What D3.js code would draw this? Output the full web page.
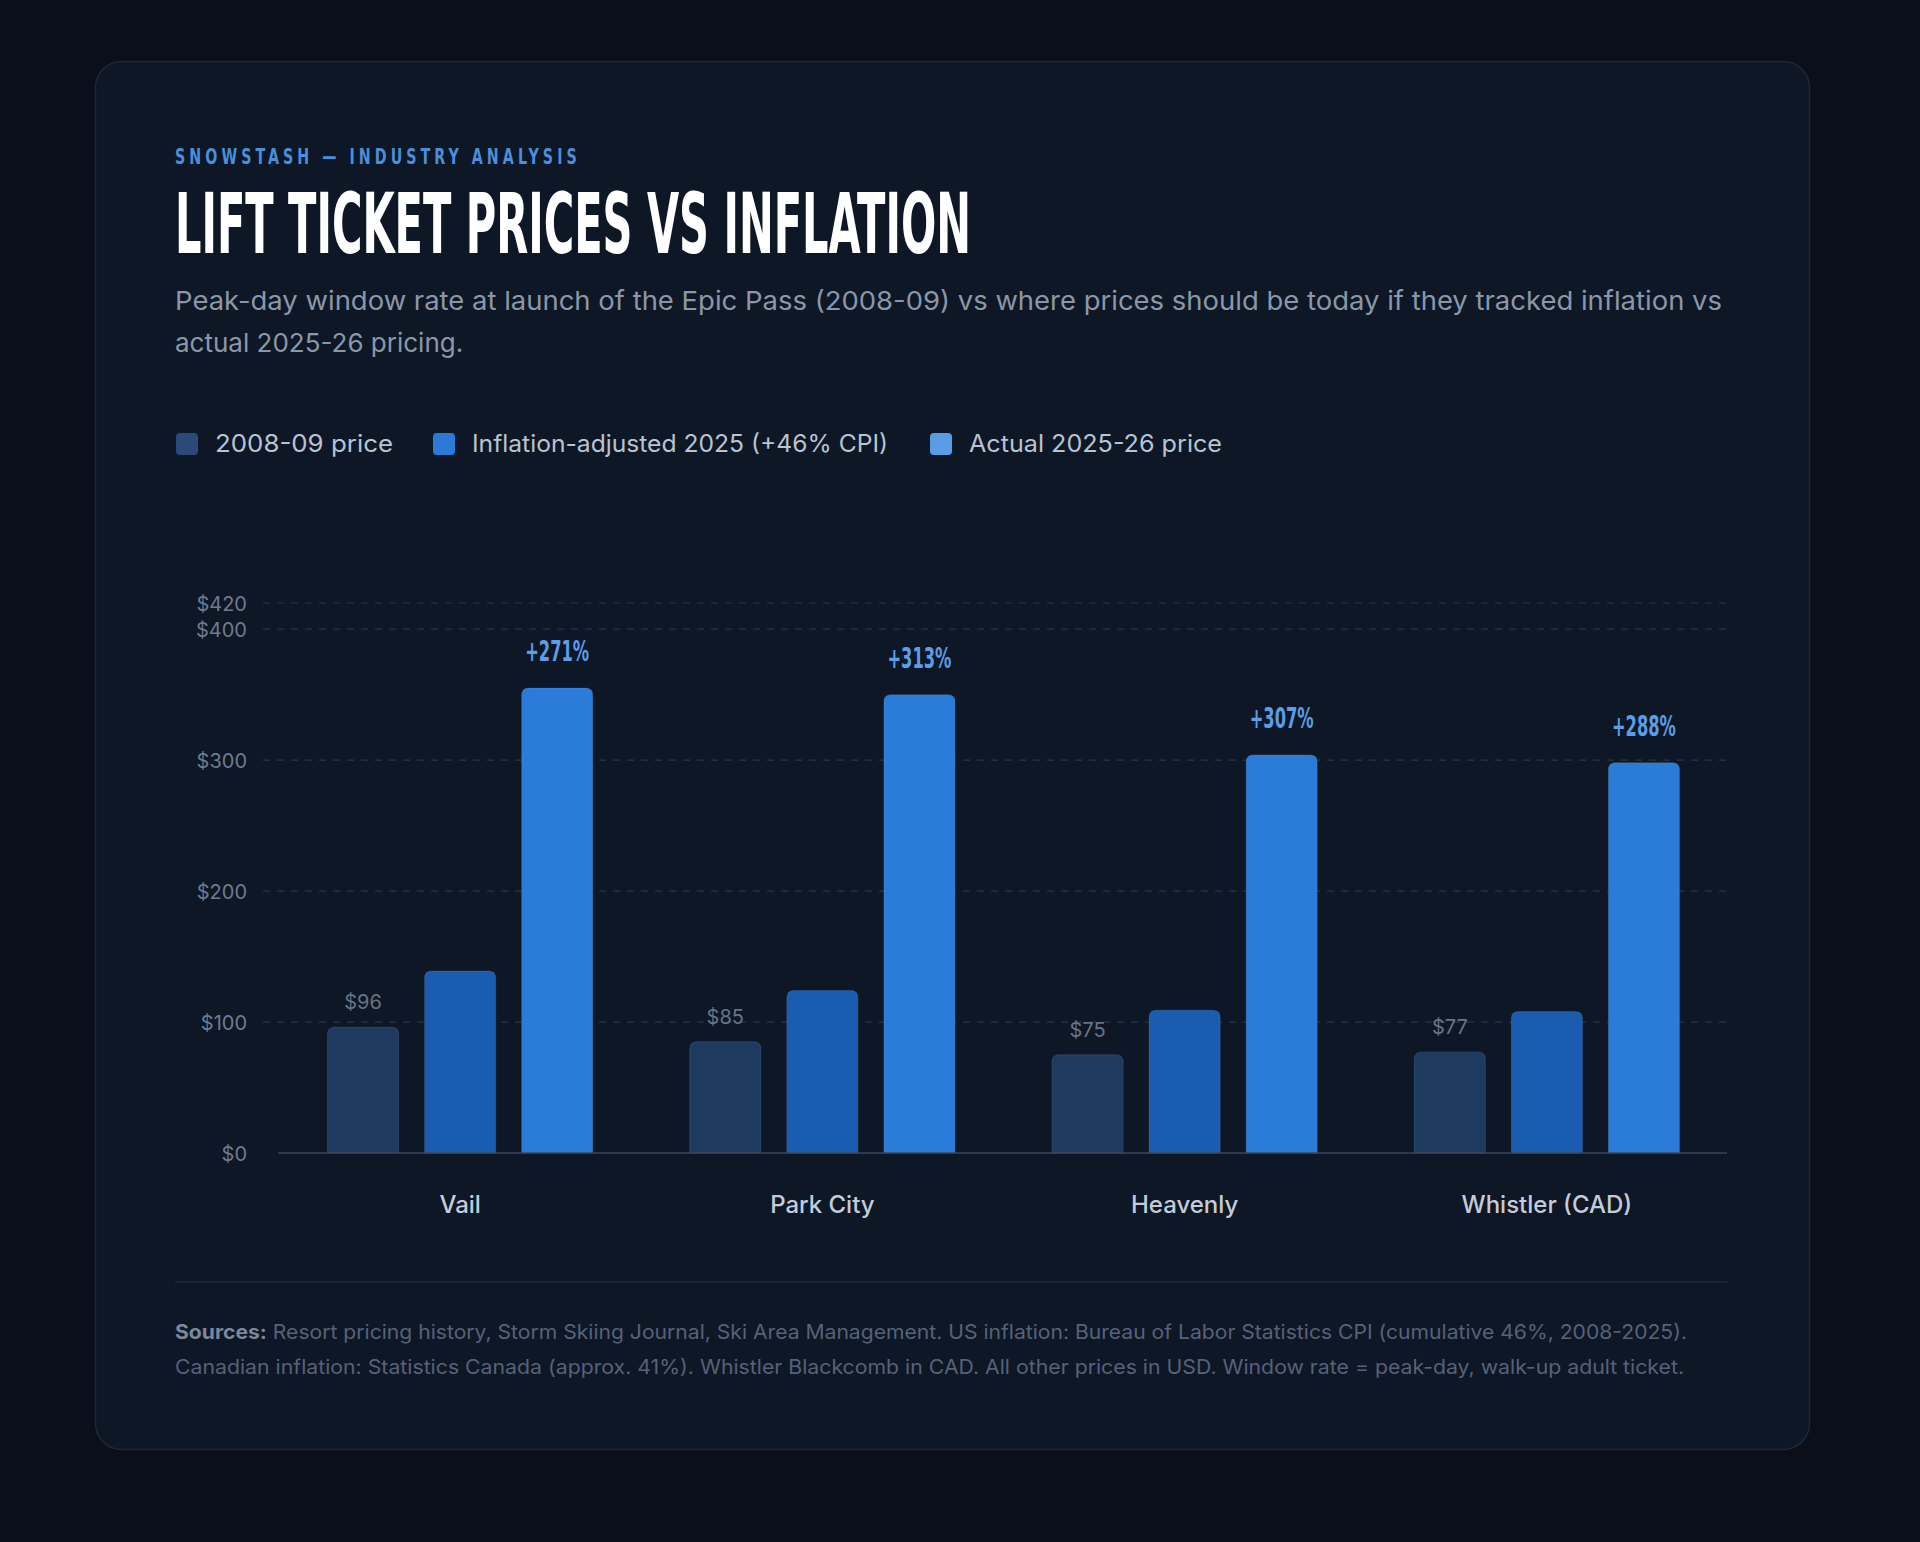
<!DOCTYPE html>
<html>
<head>
<meta charset="utf-8">
<script src="https://cdn.jsdelivr.net/npm/d3@7"></script>
<style>
  html, body { margin: 0; padding: 0; background: #0a0f19; }
  svg { display: block; }
</style>
</head>
<body>
<svg id="chart" width="1920" height="1542"></svg>
<script>
// ---- data ----
const categories = ["Vail", "Park City", "Heavenly", "Whistler (CAD)"];
const seriesNames = ["2008-09 price", "Inflation-adjusted 2025 (+46% CPI)", "Actual 2025-26 price"];
const price2008 = [96, 85, 75, 77];
const priceInflation = [139, 124, 109, 108];
const priceActual = [355, 350, 304, 298];
const pctLabels = ["+271%", "+313%", "+307%", "+288%"];
const yTicks = [0, 100, 200, 300, 400, 420];

const eyebrow = "SNOWSTASH — INDUSTRY ANALYSIS";
const title = "LIFT TICKET PRICES VS INFLATION";
const subtitleLines = [
  "Peak-day window rate at launch of the Epic Pass (2008-09) vs where prices should be today if they tracked inflation vs",
  "actual 2025-26 pricing."
];
const sourceLines = [
  ["Sources:", " Resort pricing history, Storm Skiing Journal, Ski Area Management. US inflation: Bureau of Labor Statistics CPI (cumulative 46%, 2008-2025)."],
  ["", "Canadian inflation: Statistics Canada (approx. 41%). Whistler Blackcomb in CAD. All other prices in USD. Window rate = peak-day, walk-up adult ticket."]
];

const barColors = ["#1f3a5f", "#1a5db0", "#2b7bd8"];
const legendColors = ["#2b4a77", "#2d7ad6", "#5a9ce4"];

const svg = d3.select("#chart");
const sans = "Inter, 'DM Sans', 'Noto Sans', sans-serif";
const cond = "'Liberation Sans Narrow', 'DejaVu Sans Condensed', Roboto, sans-serif";

// page + card
svg.append("rect").attr("width", 1920).attr("height", 1542).attr("fill", "#0a0f19");
svg.append("rect").attr("x", 95.5).attr("y", 61.5).attr("width", 1714).attr("height", 1388)
  .attr("rx", 26).attr("fill", "#0e1725").attr("stroke", "#1c2738").attr("stroke-width", 1.5);

// header
svg.append("text").attr("transform", "translate(175,164) scale(0.72,1)").text(eyebrow)
  .attr("font-family", cond).attr("font-weight", 700).attr("font-size", 22)
  .attr("fill", "#4a8fdc").attr("textLength", 558).attr("lengthAdjust", "spacing");

svg.append("text").attr("x", 175).attr("y", 253).text(title)
  .attr("font-family", cond).attr("font-weight", 700).attr("font-size", 84)
  .attr("fill", "#ffffff").attr("textLength", 796).attr("lengthAdjust", "spacingAndGlyphs");

const sub = svg.append("text").attr("font-family", sans).attr("font-size", 26).attr("fill", "#8b97a9");
subtitleLines.forEach((l, i) => {
  sub.append("tspan").attr("x", 175).attr("y", 310 + i * 42).text(l)
    .attr("textLength", i === 0 ? 1547 : null).attr("lengthAdjust", "spacingAndGlyphs");
});

// legend
const legendX = [176, 433, 930];
const legendTextW = [178, 416, 253];
seriesNames.forEach((s, i) => {
  const g = svg.append("g").attr("transform", `translate(${legendX[i]},444)`);
  g.append("rect").attr("x", 0).attr("y", -11).attr("width", 22).attr("height", 22).attr("rx", 4)
    .attr("fill", legendColors[i]);
  g.append("text").attr("x", 39).attr("y", 8).text(s)
    .attr("font-family", sans).attr("font-size", 24).attr("fill", "#b9c3d1")
    .attr("textLength", legendTextW[i]).attr("lengthAdjust", "spacingAndGlyphs");
});

// scales
const y = d3.scaleLinear().domain([0, 420]).range([1153, 603]);
const x0 = d3.scaleBand().domain(categories).range([279, 1728]).paddingInner(0.268).paddingOuter(0.134);
const x1 = d3.scaleBand().domain(d3.range(3)).range([0, x0.bandwidth()]).paddingInner(0.268).paddingOuter(0);

// grid
const grid = svg.append("g");
yTicks.filter(t => t > 0).forEach(t => {
  grid.append("line").attr("x1", 263).attr("x2", 1727).attr("y1", y(t)).attr("y2", y(t))
    .attr("stroke", "#2a3445").attr("stroke-width", 1.2).attr("stroke-dasharray", "7,7");
});

// y axis
const yAxis = d3.axisLeft(y).tickValues(yTicks).tickFormat(d => "$" + d).tickSize(0).tickPadding(0);
const yg = svg.append("g").attr("transform", "translate(247,0)").call(yAxis);
yg.select(".domain").remove();
yg.selectAll("text").attr("font-family", sans).attr("font-size", 20).attr("fill", "#6d7b90").attr("dy", "0.35em");

// bars
function topRounded(x, yTop, w, h, r) {
  r = Math.min(r, h);
  return `M${x},${yTop + h}V${yTop + r}Q${x},${yTop} ${x + r},${yTop}H${x + w - r}Q${x + w},${yTop} ${x + w},${yTop + r}V${yTop + h}Z`;
}
const series = [price2008, priceInflation, priceActual];
categories.forEach((c, ci) => {
  const g = svg.append("g").attr("transform", `translate(${x0(c)},0)`);
  series.forEach((vals, si) => {
    const v = vals[ci];
    const bx = x1(si), bw = x1.bandwidth();
    g.append("path").attr("d", topRounded(bx, y(v), bw, y(0) - y(v), 7))
      .attr("fill", barColors[si]).attr("stroke", "rgba(140,180,235,0.18)").attr("stroke-width", 1);
  });
  // value label for 2008
  g.append("text").attr("x", x1(0) + x1.bandwidth() / 2).attr("y", y(price2008[ci]) - 18)
    .attr("text-anchor", "middle").attr("font-family", sans).attr("font-size", 20).attr("fill", "#66748a")
    .text("$" + price2008[ci]);
  // pct label
  g.append("text").attr("x", x1(2) + x1.bandwidth() / 2).attr("y", y(priceActual[ci]) - 27)
    .attr("text-anchor", "middle").attr("font-family", cond).attr("font-weight", 700).attr("font-size", 29)
    .attr("fill", "#5b9de6").attr("textLength", 64).attr("lengthAdjust", "spacingAndGlyphs")
    .text(pctLabels[ci]);
});

// baseline
svg.append("line").attr("x1", 278).attr("x2", 1727).attr("y1", y(0)).attr("y2", y(0))
  .attr("stroke", "#3a4658").attr("stroke-width", 1.5);

// x axis labels
const xAxis = d3.axisBottom(x0).tickSize(0).tickPadding(0);
const xg = svg.append("g").attr("transform", `translate(0,${y(0) + 52})`).call(xAxis);
xg.select(".domain").remove();
xg.selectAll("text").attr("font-family", sans).attr("font-size", 24).attr("font-weight", 500)
  .attr("fill", "#c3ccd8").attr("dy", "0.35em");

// divider
svg.append("line").attr("x1", 175).attr("x2", 1727).attr("y1", 1282).attr("y2", 1282)
  .attr("stroke", "#1d2838").attr("stroke-width", 1.5);

// sources
sourceLines.forEach((parts, i) => {
  const t = svg.append("text").attr("x", 175).attr("y", 1339 + i * 35)
    .attr("font-family", sans).attr("font-size", 20).attr("fill", "#55627a")
    .attr("textLength", i === 0 ? 1512 : 1509).attr("lengthAdjust", "spacingAndGlyphs");
  if (parts[0]) t.append("tspan").attr("font-weight", 700).attr("fill", "#7b889c").text(parts[0]);
  t.append("tspan").text(parts[1]);
});
</script>
</body>
</html>
